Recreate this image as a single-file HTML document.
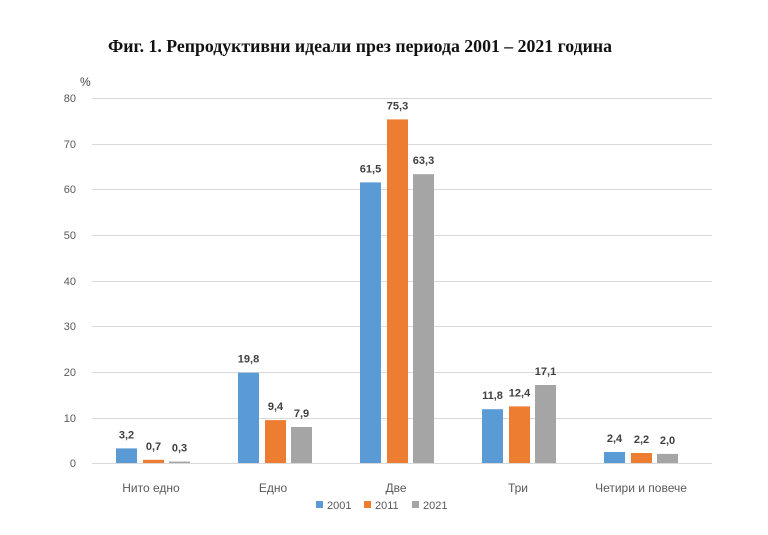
<!DOCTYPE html>
<html><head><meta charset="utf-8"><style>
body{margin:0;background:#fff;}
svg{display:block;}
</style></head><body>
<svg width="768" height="535" xmlns="http://www.w3.org/2000/svg" font-family="Liberation Sans, sans-serif">
<text x="360" y="52" text-anchor="middle" font-family="Liberation Serif, serif" font-weight="bold" font-size="17.5" fill="#111" textLength="504" lengthAdjust="spacingAndGlyphs">Фиг. 1. Репродуктивни идеали през периода 2001 – 2021 година</text>
<text x="80" y="86" font-size="12" fill="#444">%</text>
<g stroke="#d9d9d9" stroke-width="1">
<line x1="92" x2="712" y1="98.5" y2="98.5"/><line x1="92" x2="712" y1="144.5" y2="144.5"/>
<line x1="92" x2="712" y1="189.5" y2="189.5"/><line x1="92" x2="712" y1="235.5" y2="235.5"/>
<line x1="92" x2="712" y1="281.5" y2="281.5"/><line x1="92" x2="712" y1="326.5" y2="326.5"/>
<line x1="92" x2="712" y1="372.5" y2="372.5"/><line x1="92" x2="712" y1="418.5" y2="418.5"/>
<line x1="92" x2="712" y1="463.5" y2="463.5"/>
</g>
<g font-size="11" fill="#595959" text-anchor="end">
<text x="76" y="102">80</text><text x="76" y="148">70</text><text x="76" y="193">60</text>
<text x="76" y="239">50</text><text x="76" y="285">40</text><text x="76" y="330">30</text>
<text x="76" y="376">20</text><text x="76" y="422">10</text><text x="76" y="467">0</text>
</g>
<g>
<rect x="116" y="448.4" width="21" height="14.6" fill="#5b9bd5"/>
<rect x="143" y="459.8" width="21" height="3.2" fill="#ed7d31"/>
<rect x="169" y="461.6" width="21" height="1.4" fill="#a5a5a5"/>
<rect x="238" y="372.7" width="21" height="90.3" fill="#5b9bd5"/>
<rect x="265" y="420.1" width="21" height="42.9" fill="#ed7d31"/>
<rect x="291" y="427" width="21" height="36" fill="#a5a5a5"/>
<rect x="360" y="182.4" width="21" height="280.6" fill="#5b9bd5"/>
<rect x="387" y="119.4" width="21" height="343.6" fill="#ed7d31"/>
<rect x="413" y="174.2" width="21" height="288.8" fill="#a5a5a5"/>
<rect x="482" y="409.2" width="21" height="53.8" fill="#5b9bd5"/>
<rect x="509" y="406.4" width="21" height="56.6" fill="#ed7d31"/>
<rect x="535" y="385" width="21" height="78" fill="#a5a5a5"/>
<rect x="604" y="452" width="21" height="11" fill="#5b9bd5"/>
<rect x="631" y="453" width="21" height="10" fill="#ed7d31"/>
<rect x="657" y="453.9" width="21" height="9.1" fill="#a5a5a5"/>
</g>
<g font-size="11" font-weight="bold" fill="#404040" text-anchor="middle">
<text x="126.5" y="438.4">3,2</text><text x="153.5" y="449.8">0,7</text><text x="179.5" y="451.6">0,3</text>
<text x="248.5" y="362.7">19,8</text><text x="275.5" y="410.1">9,4</text><text x="301.5" y="417">7,9</text>
<text x="370.5" y="172.4">61,5</text><text x="397.5" y="109.4">75,3</text><text x="423.5" y="164.2">63,3</text>
<text x="492.5" y="399.2">11,8</text><text x="519.5" y="396.4">12,4</text><text x="545.5" y="375">17,1</text>
<text x="614.5" y="442">2,4</text><text x="641.5" y="443">2,2</text><text x="667.5" y="443.9">2,0</text>
</g>
<g font-size="12" fill="#595959" text-anchor="middle">
<text x="151" y="492">Нито едно</text><text x="273" y="492">Едно</text><text x="396" y="492">Две</text>
<text x="518" y="492">Три</text><text x="641" y="492">Четири и повече</text>
</g>
<g font-size="11" fill="#595959">
<rect x="316" y="501" width="7" height="7" fill="#5b9bd5"/><text x="327" y="509">2001</text>
<rect x="364" y="501" width="7" height="7" fill="#ed7d31"/><text x="375" y="509">2011</text>
<rect x="412" y="501" width="7" height="7" fill="#a5a5a5"/><text x="423" y="509">2021</text>
</g>
</svg>
</body></html>
